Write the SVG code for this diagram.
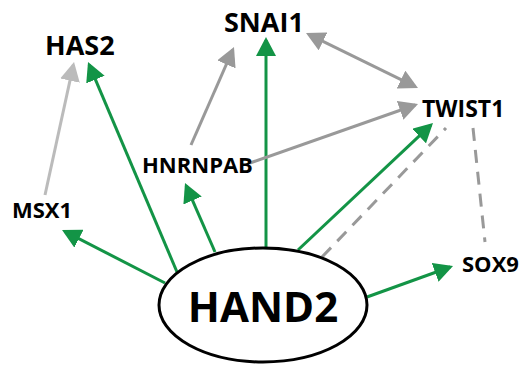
<svg xmlns="http://www.w3.org/2000/svg" width="519" height="367" viewBox="0 0 519 367">
<style>
.lbl{font-family:"Open Sans","Liberation Sans",sans-serif;font-weight:bold;fill:#000}
.g{stroke:#139446;stroke-width:3;fill:none}
.gr{stroke:#999999;stroke-width:3;fill:none}
.lg{stroke:#bbbbbb;stroke-width:3;fill:none}
.dash{stroke:#999999;stroke-width:3;fill:none;stroke-dasharray:13 9}
</style>
<defs>
<marker id="ag" markerUnits="userSpaceOnUse" markerWidth="20" markerHeight="20" refX="16" refY="10" orient="auto"><path d="M0,0 L19,10 L0,20 z" fill="#139446"/></marker>
<marker id="agr" markerUnits="userSpaceOnUse" markerWidth="20" markerHeight="20" refX="16" refY="10" orient="auto-start-reverse"><path d="M0,0 L19,10 L0,20 z" fill="#999999"/></marker>
<marker id="alg" markerUnits="userSpaceOnUse" markerWidth="20" markerHeight="20" refX="16" refY="10" orient="auto"><path d="M0,0 L19,10 L0,20 z" fill="#bbbbbb"/></marker>
</defs>
<g id="connectors">
<line class="g" x1="165" y1="283" x2="64.7" y2="231.4" marker-end="url(#ag)"/>
<line class="g" x1="177" y1="272" x2="89.2" y2="64.8" marker-end="url(#ag)"/>
<line class="g" x1="215" y1="252" x2="186.2" y2="185.8" marker-end="url(#ag)"/>
<line class="g" x1="266" y1="247" x2="266" y2="40" marker-end="url(#ag)"/>
<line class="g" x1="298" y1="250" x2="430.8" y2="125.1" marker-end="url(#ag)"/>
<line class="g" x1="367" y1="297" x2="450.2" y2="267" marker-end="url(#ag)"/>
<line class="lg" x1="45" y1="195" x2="73.4" y2="64.9" marker-end="url(#alg)"/>
<line class="gr" x1="191" y1="145" x2="232.8" y2="49.7" marker-end="url(#agr)"/>
<line class="gr" x1="250" y1="163" x2="415.2" y2="105" marker-end="url(#agr)"/>
<line class="gr" x1="308.7" y1="34.3" x2="415.3" y2="86.7" marker-start="url(#agr)" marker-end="url(#agr)"/>
<line class="dash" x1="322" y1="257" x2="446" y2="128"/>
<line class="dash" x1="473" y1="128" x2="485" y2="242"/>
</g>
<g id="HAND2"><ellipse cx="263" cy="305" rx="104" ry="57" fill="#fff" stroke="#000" stroke-width="3"/><text class="lbl" x="263" y="322" font-size="42" text-anchor="middle">HAND2</text></g>
<g id="HAS2"><text class="lbl" x="45" y="55" font-size="27">HAS2</text></g>
<g id="SNAI1"><text class="lbl" x="224" y="32" font-size="27">SNAI1</text></g>
<g id="TWIST1"><text class="lbl" x="422" y="117" font-size="23">TWIST1</text></g>
<g id="HNRNPAB"><text class="lbl" x="142" y="173" font-size="22">HNRNPAB</text></g>
<g id="MSX1"><text class="lbl" x="12" y="218" font-size="22">MSX1</text></g>
<g id="SOX9"><text class="lbl" x="462" y="272" font-size="22">SOX9</text></g>
</svg>
